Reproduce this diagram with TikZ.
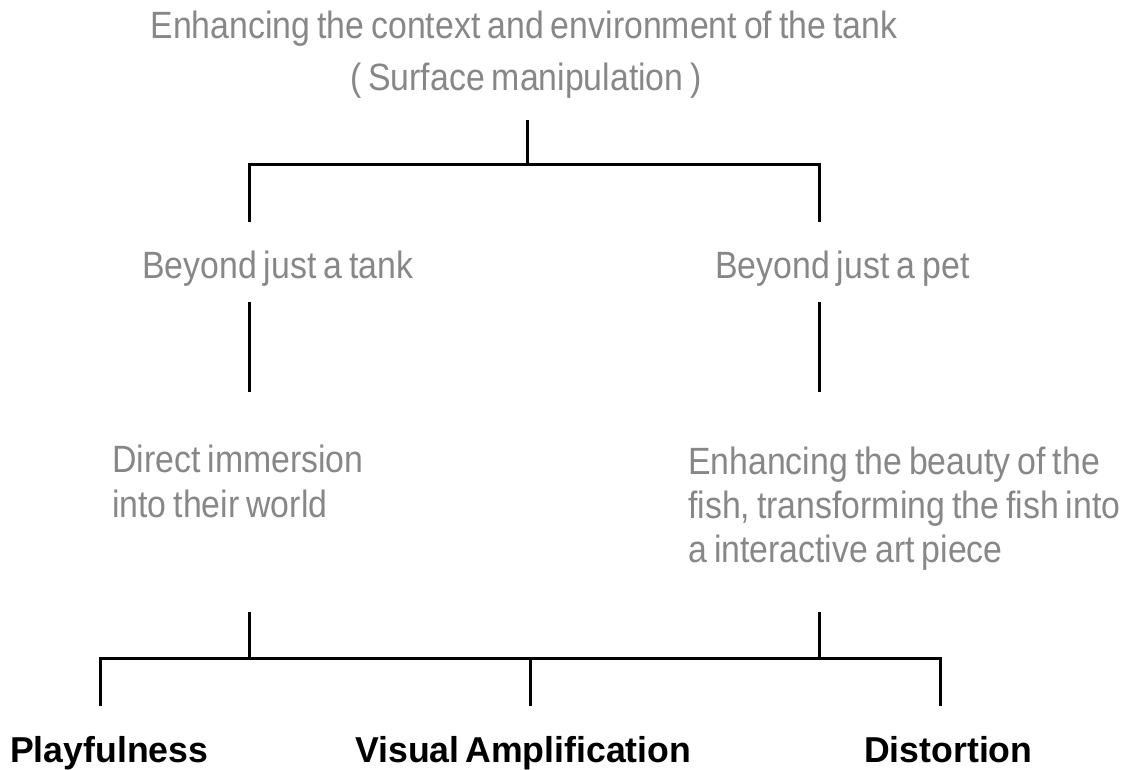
\documentclass[tikz,border=0pt]{standalone}
\usepackage{fontspec}
\setmainfont{Liberation Sans}
\newfontfamily\lightf[WordSpace=0.75,FakeStretch=0.89]{Liberation Sans}
\newfontfamily\boldf[WordSpace=0.6,FakeStretch=0.99]{Liberation Sans Bold}
\definecolor{txtgray}{HTML}{878787}
\begin{document}
\begin{tikzpicture}[x=1pt,y=-1pt]
\tikzset{
  lbl/.style={font=\lightf\fontsize{38}{44}\selectfont, text=txtgray, inner sep=0pt},
  heading/.style={font=\boldf\fontsize{36}{42}\selectfont, text=black, inner sep=0pt},
  conn/.style={draw=black, line width=3pt, line join=miter}
}
\useasboundingbox (0,0) rectangle (1122,770);
% texts
\node[lbl, anchor=base] (title1) at (524,39) {Enhancing the context and environment of the tank};
\node[lbl, anchor=base] (title2) at (526,91) {( Surface manipulation )};
\node[lbl, anchor=base west] (tank) at (142,278) {Beyond just a tank};
\node[lbl, anchor=base west] (pet) at (715,278) {Beyond just a pet};
\node[lbl, anchor=base west] (imm1) at (112,472) {Direct immersion};
\node[lbl, anchor=base west] (imm2) at (112,517) {into their world};
\node[lbl, anchor=base west] (art1) at (688,474) {Enhancing the beauty of the};
\node[lbl, anchor=base west] (art2) at (688,518) {fish, transforming the fish into};
\node[lbl, anchor=base west] (art3) at (688,562) {a interactive art piece};
\node[heading, anchor=base west] (play) at (10,762) {Playfulness};
\node[heading, anchor=base west] (vis) at (355,762) {Visual Amplification};
\node[heading, anchor=base west] (dist) at (864,762) {Distortion};
% connector end points
\coordinate (t0) at (527,120);
\coordinate (t1) at (527,165);
\coordinate (bl) at (249,222);
\coordinate (br) at (819,222);
\coordinate (l1) at (249,302);
\coordinate (l2) at (249,392);
\coordinate (r1) at (819,302);
\coordinate (r2) at (819,392);
\coordinate (l3) at (249,612);
\coordinate (l4) at (249,658);
\coordinate (r3) at (819,612);
\coordinate (r4) at (819,658);
\coordinate (p0) at (100,706);
\coordinate (m0) at (530,658);
\coordinate (m1) at (530,706);
\coordinate (d0) at (940,706);
% connectors
\draw[conn] (t0) -- (t1);
\draw[conn] (bl) |- (t1) -| (br);
\draw[conn] (l1) -- (l2);
\draw[conn] (r1) -- (r2);
\draw[conn] (l3) -- (l4);
\draw[conn] (r3) -- (r4);
\draw[conn] (p0) |- (m0) -| (d0);
\draw[conn] (m0) -- (m1);
\end{tikzpicture}
\end{document}
